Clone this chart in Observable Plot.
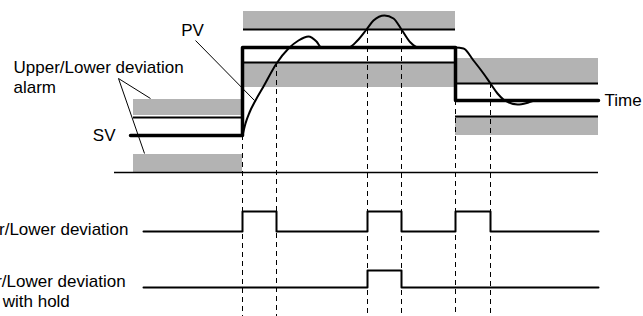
<!DOCTYPE html>
<html>
<head>
<meta charset="utf-8">
<script src="https://cdn.jsdelivr.net/npm/d3@7"></script>
<script src="https://cdn.jsdelivr.net/npm/@observablehq/plot@0.6"></script>
<style>
  html, body { margin: 0; padding: 0; background: #fff; }
  #chart { width: 643px; height: 316px; overflow: hidden; }
</style>
</head>
<body>
<div id="chart"></div>
<script>
// ---- Data (time units along x, process-value units along y) ----
const segStart = [13.3, 24.3, 45.5];
const segEnd = [24.2, 45.5, 59.8];
const setValue = [37, 125, 72];
const upperAlarm = [55, 143, 89];
const lowerAlarm = [18, 110, 56];
const upperBandBottom = [57, 143, 89];
const upperBandTop = [73, 161, 114];
const lowerBandBottom = [0, 85, 37];
const lowerLineShown = [false, true, true];

const svTimes = [13.0, 24.2, 45.5, 59.8];
const svValues = [37, 125, 72, 72];

const pvTimes = [24.2, 24.5, 24.9, 25.5, 26.3, 27.6, 28.8, 29.8, 30.8, 31.6, 32.1, 34.8, 35.7, 36.6, 37.3, 38.4, 39.3, 40.1, 41.0, 41.8, 45.5, 46.3, 47.3, 48.3, 49.0, 49.7, 50.3, 51.7, 52.8, 53.5, 59.8];
const pvValues = [37, 49, 60, 72, 86, 109, 124, 132, 136, 131, 125, 125, 132, 143, 152, 157, 154, 143, 130, 125, 125, 124, 112, 99, 89, 79, 73, 68, 70, 72, 72];

const eventTimes = [24.2, 27.6, 36.7, 40.1, 45.5, 49.0];
const eventTop = [37, 110, 143, 143, 72, 89];

const outputTimes = [14.3, 24.2, 27.6, 36.7, 40.1, 45.5, 49.0, 59.8];
const alarmState = [0, 1, 0, 1, 0, 1, 0, 0];
const alarmHoldState = [0, 0, 0, 1, 0, 0, 0, 0];

// ---- Layout constants ----
const rowAlarm = {base: -59, on: -39};
const rowHold = {base: -115, on: -98};
const bottomV = -144;

const segs = segStart.map((s, i) => ({
  x1: s, x2: segEnd[i], sv: setValue[i], hi: upperAlarm[i], lo: lowerAlarm[i],
  hb: upperBandBottom[i], top: upperBandTop[i], bot: lowerBandBottom[i], showLo: lowerLineShown[i]
}));
const sv = svTimes.map((t, i) => ({t, v: svValues[i]}));
const pv = pvTimes.map((t, i) => ({t, v: pvValues[i]}));
const events = eventTimes.map((t, i) => ({t, top: eventTop[i]}));
const out1 = outputTimes.map((t, i) => ({t, v: alarmState[i] ? rowAlarm.on : rowAlarm.base}));
const out2 = outputTimes.map((t, i) => ({t, v: alarmHoldState[i] ? rowHold.on : rowHold.base}));

const grey = "#b3b3b3";
const fs = 17;

const chart = Plot.plot({
  width: 643,
  height: 316,
  margin: 0,
  x: {domain: [0, 64.3], axis: null},
  y: {domain: [-144, 172], axis: null},
  style: {fontFamily: "'Liberation Sans', Arial, Helvetica, sans-serif", background: "#fff", overflow: "visible"},
  marks: [
    // grey deviation bands
    Plot.rect(segs, {x1: "x1", x2: "x2", y1: "hb", y2: "top", fill: grey}),
    Plot.rect(segs, {x1: "x1", x2: "x2", y1: "bot", y2: d => d.showLo ? d.lo : d.sv - 19, fill: grey}),
    // alarm threshold lines
    Plot.ruleY(segs, {y: "hi", x1: "x1", x2: "x2", stroke: "#000", strokeWidth: 2}),
    Plot.ruleY(segs.filter(d => d.showLo), {y: "lo", x1: "x1", x2: "x2", stroke: "#000", strokeWidth: 2}),
    // baseline of the PV section
    Plot.ruleY([0], {x1: 11.4, x2: 59.8, stroke: "#000", strokeWidth: 1.5}),
    // dashed event lines
    Plot.ruleX(events, {x: "t", y1: "top", y2: bottomV, stroke: "#000", strokeWidth: 1, strokeDasharray: "5,4"}),
    // SV step
    Plot.line(sv, {x: "t", y: "v", curve: "step-after", stroke: "#000", strokeWidth: 3.5}),
    // PV curve
    Plot.line(pv, {x: "t", y: "v", curve: "monotone-x", stroke: "#000", strokeWidth: 2}),
    // alarm outputs
    Plot.line(out1, {x: "t", y: "v", curve: "step-after", stroke: "#000", strokeWidth: 2}),
    Plot.line(out2, {x: "t", y: "v", curve: "step-after", stroke: "#000", strokeWidth: 2}),
    // leader lines
    Plot.link([{x1: 19.5, y1: 132, x2: 25.4, y2: 72}], {x1: "x1", y1: "y1", x2: "x2", y2: "y2", stroke: "#000", strokeWidth: 1}),
    Plot.link([{x1: 11.8, y1: 94, x2: 15.0, y2: 74}, {x1: 11.8, y1: 94, x2: 14.4, y2: 19}], {x1: "x1", y1: "y1", x2: "x2", y2: "y2", stroke: "#000", strokeWidth: 1}),
    // labels
    Plot.text(["PV"], {x: 19.2, y: 142, text: d => d, fontSize: fs, fill: "#000"}),
    Plot.text(["SV"], {x: 11.5, y: 37, text: d => d, textAnchor: "end", fontSize: fs, fill: "#000"}),
    Plot.text(["Time"], {x: 60.4, y: 72, text: d => d, textAnchor: "start", fontSize: fs, fill: "#000"}),
    Plot.text(["Upper/Lower deviation\nalarm"], {x: 1.3, y: 96, text: d => d, textAnchor: "start", lineHeight: 1.15, fontSize: fs, fill: "#000"}),
    Plot.text(["Upper/Lower deviation"], {x: 12.8, y: -57, text: d => d, textAnchor: "end", fontSize: fs, fill: "#000"}),
    Plot.text(["Upper/Lower deviation\nalarm with hold"], {x: -4.5, y: -118, text: d => d, textAnchor: "start", lineHeight: 1.15, fontSize: fs, fill: "#000"})
  ]
});
document.getElementById("chart").appendChild(chart);
</script>
</body>
</html>
